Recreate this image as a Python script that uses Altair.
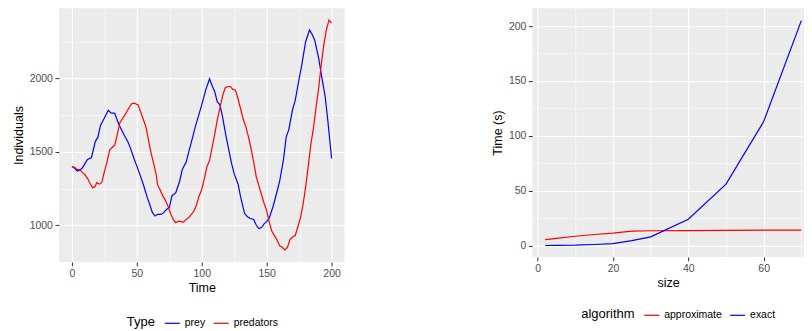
import altair as alt
import pandas as pd

# ---- left panel: predator / prey simulation ----
prey_t = [0, 2, 4, 6, 8, 10, 12, 15, 18, 20, 22, 25, 28, 30, 33, 36, 40, 43, 45, 48,
          50, 53, 55, 58, 60, 62, 64, 66, 68, 70, 73, 75, 77, 80, 83, 85, 88, 90, 93, 95,
          98, 100, 103, 106, 108, 110, 112, 114, 116, 118, 120, 123, 125, 128, 130, 133,
          135, 137, 140, 142, 144, 146, 148, 150, 152, 155, 158, 160, 163, 165, 167, 170,
          172, 174, 177, 180, 183, 185, 187, 190, 193, 195, 197, 200]
prey_v = [1400, 1390, 1370, 1375, 1390, 1420, 1448, 1460, 1570, 1600, 1680, 1730, 1783,
          1765, 1762, 1690, 1618, 1570, 1527, 1450, 1403, 1330, 1278, 1190, 1140, 1086,
          1063, 1075, 1075, 1080, 1109, 1120, 1200, 1222, 1300, 1380, 1430, 1500, 1600,
          1670, 1760, 1820, 1920, 1998, 1950, 1910, 1840, 1820, 1740, 1640, 1550, 1420,
          1350, 1280, 1190, 1080, 1060, 1048, 1040, 1000, 978, 985, 1010, 1025, 1050, 1130,
          1230, 1300, 1450, 1600, 1650, 1790, 1850, 1950, 2090, 2250, 2330, 2300, 2260,
          2140, 1980, 1880, 1720, 1455]

pred_t = [0, 2, 4, 6, 8, 10, 12, 14, 16, 18, 19, 21, 23, 25, 27, 29, 31, 33, 35, 37, 40,
          42, 44, 46, 48, 51, 53, 55, 57, 59, 61, 63, 65, 66, 68, 70, 72, 74, 76, 78, 80,
          82, 84, 86, 88, 90, 92, 94, 96, 98, 100, 102, 104, 106, 108, 110, 112, 114, 116,
          118, 120, 122, 124, 126, 128, 130, 132, 134, 136, 138, 140, 142, 144, 146, 148,
          150, 152, 154, 156, 158, 160, 162, 164, 166, 168, 170, 172, 174, 176, 178, 180,
          182, 184, 186, 188, 190, 192, 194, 196, 198, 200]
pred_v = [1400, 1395, 1380, 1380, 1360, 1345, 1320, 1285, 1255, 1265, 1290, 1280, 1290,
          1365, 1430, 1510, 1530, 1545, 1620, 1700, 1740, 1770, 1800, 1828, 1832, 1820,
          1770, 1720, 1670, 1580, 1490, 1420, 1340, 1275, 1240, 1200, 1170, 1130, 1080,
          1040, 1018, 1028, 1025, 1022, 1040, 1052, 1075, 1097, 1140, 1200, 1244, 1320,
          1400, 1440, 1530, 1620, 1720, 1800, 1880, 1935, 1945, 1945, 1925, 1920, 1860,
          1790, 1720, 1670, 1600, 1520, 1430, 1330, 1270, 1210, 1150, 1100, 1020, 960, 930,
          900, 860, 850, 833, 850, 905, 920, 930, 990, 1050, 1140, 1260, 1400, 1550, 1660,
          1800, 1930, 2093, 2230, 2330, 2398, 2376]

type_order = ["prey", "predators"]
type_colors = ["#0000FF", "#FF0000"]

# ---- right panel: timing ----
sizes = [2, 5, 10, 15, 20, 25, 30, 40, 50, 60, 70]
approx_time = [5.4, 6.6, 8.5, 10.1, 11.4, 13.2, 13.5, 13.7, 13.8, 14.0, 14.1]
exact_time = [0.1, 0.2, 0.4, 1.0, 1.8, 4.5, 8.0, 24.0, 56.0, 113.0, 205.0]

algo_order = ["approximate", "exact"]
algo_colors = ["#FF0000", "#0000FF"]

left_df = pd.DataFrame({
    "Time": prey_t + pred_t,
    "Individuals": prey_v + pred_v,
    "Type": ["prey"] * len(prey_t) + ["predators"] * len(pred_t),
})
right_df = pd.DataFrame({
    "size": sizes + sizes,
    "Time (s)": approx_time + exact_time,
    "algorithm": ["approximate"] * len(sizes) + ["exact"] * len(sizes),
})

FONT = "Liberation Sans"


def gg_axis(values, major, title, title_pad):
    test = f"datum.value % {major} === 0"
    return alt.Axis(
        values=values,
        title=title,
        format="d",
        labelExpr=f"{test} ? datum.label : ''",
        gridWidth={"condition": {"test": test, "value": 1.1}, "value": 0.55},
        tickOpacity={"condition": {"test": test, "value": 1}, "value": 0},
        labelFlush=False,
        labelOverlap=False,
        titlePadding=title_pad,
    )


def gg_legend(title, lx, ly):
    return alt.Legend(
        title=title,
        orient="none",
        legendX=lx,
        legendY=ly,
        direction="horizontal",
        titleOrient="left",
        symbolType="stroke",
        symbolStrokeWidth=1.2,
        symbolSize=225,
        labelFontSize=10.5,
        titleFontSize=13,
        titleFontWeight="normal",
        titleColor="black",
        labelColor="black",
        labelFont=FONT,
        titleFont=FONT,
        columnPadding=5,
        labelOffset=4,
        titlePadding=8,
    )


left = alt.Chart(left_df).mark_line(strokeWidth=1.2).encode(
    x=alt.X("Time:Q", scale=alt.Scale(domain=[-10, 210], nice=False, zero=False),
            axis=gg_axis([0, 25, 50, 75, 100, 125, 150, 175, 200], 50, "Time", 3)),
    y=alt.Y("Individuals:Q", scale=alt.Scale(domain=[751, 2478], nice=False, zero=False),
            axis=gg_axis([1000, 1250, 1500, 1750, 2000, 2250], 500, "Individuals", 4)),
    color=alt.Color("Type:N", scale=alt.Scale(domain=type_order, range=type_colors),
                    sort=type_order, legend=gg_legend("Type", 68, 307)),
).properties(width=286, height=254)

right = alt.Chart(right_df).mark_line(strokeWidth=1.2).encode(
    x=alt.X("size:Q", scale=alt.Scale(domain=[-1.4, 70.7], nice=False, zero=False),
            axis=gg_axis([0, 10, 20, 30, 40, 50, 60, 70], 20, "size", 3)),
    y=alt.Y("Time (s):Q", scale=alt.Scale(domain=[-10.3, 216.3], nice=False, zero=False),
            axis=gg_axis([0, 25, 50, 75, 100, 125, 150, 175, 200], 50, "Time (s)", 4)),
    color=alt.Color("algorithm:N", scale=alt.Scale(domain=algo_order, range=algo_colors),
                    legend=gg_legend("algorithm", 49, 299)),
).properties(width=272, height=249)

chart = alt.hconcat(left, right, spacing=146).resolve_scale(
    color="independent"
).resolve_legend(color="independent").properties(
    padding={"left": 4, "top": 0, "right": 0, "bottom": 0}
).configure_view(
    fill="#EBEBEB", strokeWidth=0
).configure_axis(
    domain=False,
    tickColor="#333333",
    tickSize=4,
    tickWidth=1,
    labelColor="#4D4D4D",
    labelFontSize=10.5,
    labelFont=FONT,
    labelPadding=2.5,
    titleFont=FONT,
    titleFontSize=12.5,
    titleFontWeight="normal",
    titleColor="black",
    gridColor="#FFFFFF",
)

chart.save("out.html", embed_options={"renderer": "svg", "actions": False})
